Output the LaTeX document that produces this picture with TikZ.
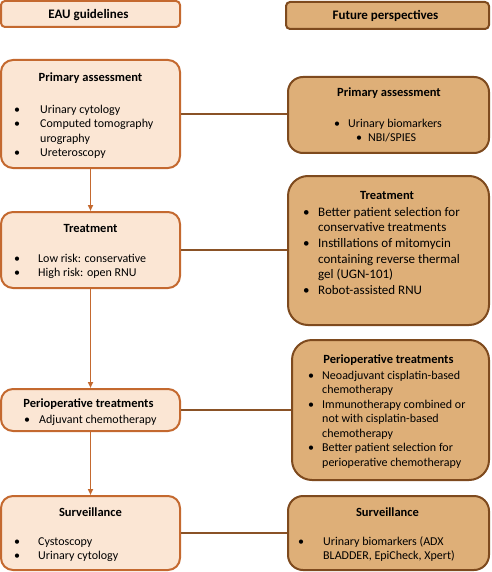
\documentclass[tikz,border=0pt]{standalone}
\usepackage{fontspec}
\setmainfont{Carlito}
\usepackage{xcolor}
\usepackage{tikz}
\usetikzlibrary{arrows.meta}

\definecolor{eauline}{HTML}{C4692F}
\definecolor{eaufill}{HTML}{FBE6D4}
\definecolor{futline}{HTML}{7E4A1E}
\definecolor{futfill}{HTML}{DEAF78}
\definecolor{linkline}{HTML}{8A5226}

\newcommand{\bul}[1]{\makebox[#1][l]{\textbullet}}
\newcommand{\topline}{\rule{0pt}{11pt}}

\tikzset{
  eaubox/.style={draw=eauline, fill=eaufill, line width=2pt, rounded corners=12pt, inner sep=0pt},
  futbox/.style={draw=futline, fill=futfill, line width=2pt, rounded corners=15pt, inner sep=0pt},
  boxtitle/.style={font=\fontsize{12.5}{15}\selectfont\bfseries, anchor=base, inner sep=0pt},
  headtitle/.style={boxtitle, font=\fontsize{13}{15}\selectfont\bfseries},
  itemlist/.style={font=\fontsize{12}{14.5}\selectfont, align=left, anchor=north west, inner sep=0pt},
  flow/.style={draw=eauline, line width=1.6pt, -{Triangle[length=6pt,width=5pt]}},
  link/.style={draw=linkline, line width=1.6pt},
}

\begin{document}
\begin{tikzpicture}[x=1pt,y=-1pt]
  \useasboundingbox (0,0) rectangle (491,572);

  % column headers
  \node[eaubox, rounded corners=4pt, minimum width=179pt, minimum height=26pt] (eau-head) at (90.5,14) {};
  \node[headtitle] (eau-head-t) at (88.5,19) {EAU guidelines};
  \node[futbox, rounded corners=4pt, minimum width=203pt, minimum height=27pt] (fut-head) at (387.5,15.5) {};
  \node[headtitle] (fut-head-t) at (385.5,20) {Future perspectives};

  % EAU guidelines column
  \node[eaubox, minimum width=179pt, minimum height=108pt] (eau-pa) at (90.5,114) {};
  \node[boxtitle] (eau-pa-t) at (90.5,82) {Primary assessment};
  \node[itemlist] (eau-pa-l) at (14,102) {\topline\bul{26pt}Urinary cytology\\
    \bul{26pt}Computed tomography\\ \hspace*{26pt}urography\\ \bul{26pt}Ureteroscopy};

  \node[eaubox, minimum width=179pt, minimum height=76pt] (eau-tr) at (90.5,250) {};
  \node[boxtitle] (eau-tr-t) at (90.5,232) {Treatment};
  \node[itemlist] (eau-tr-l) at (14,251) {\topline\bul{24pt}Low risk: conservative\\
    \bul{24pt}High risk: open RNU};

  \node[eaubox, minimum width=179pt, minimum height=42pt] (eau-po) at (90.5,410) {};
  \node[boxtitle] (eau-po-t) at (88.5,407) {Perioperative treatments};
  \node[itemlist] (eau-po-l) at (24,412) {\topline\bul{15pt}Adjuvant chemotherapy};

  \node[eaubox, minimum width=179pt, minimum height=74pt] (eau-su) at (90.5,533) {};
  \node[boxtitle] (eau-su-t) at (90.5,516) {Surveillance};
  \node[itemlist] (eau-su-l) at (14,534) {\topline\bul{24pt}Cystoscopy\\
    \bul{24pt}Urinary cytology};

  % future perspectives column
  \node[futbox, minimum width=201pt, minimum height=76pt] (fut-pa) at (388.5,115) {};
  \node[boxtitle] (fut-pa-t) at (389,97) {Primary assessment};
  \node[itemlist] (fut-pa-l) at (334,116) {\topline\bul{14pt}Urinary biomarkers\\
    \hspace*{22pt}\bul{12pt}NBI/SPIES};

  \node[futbox, rounded corners=20pt, minimum width=201pt, minimum height=149pt] (fut-tr) at (388.5,250.5) {};
  \node[boxtitle] (fut-tr-t) at (387,199) {Treatment};
  \node[itemlist, font=\fontsize{13}{15.6}\selectfont] (fut-tr-l) at (303,205) {\topline\bul{15pt}Better patient selection for\\
    \hspace*{15pt}conservative treatments\\ \bul{15pt}Instillations of mitomycin\\
    \hspace*{15pt}containing reverse thermal\\ \hspace*{15pt}gel (UGN-101)\\
    \bul{15pt}Robot-assisted RNU};

  \node[futbox, rounded corners=20pt, minimum width=197pt, minimum height=140pt] (fut-po) at (390.5,410) {};
  \node[boxtitle] (fut-po-t) at (388.5,363) {Perioperative treatments};
  \node[itemlist] (fut-po-l) at (308,368) {\topline\bul{14pt}Neoadjuvant cisplatin-based\\
    \hspace*{14pt}chemotherapy\\ \bul{14pt}Immunotherapy combined or\\
    \hspace*{14pt}not with cisplatin-based\\ \hspace*{14pt}chemotherapy\\
    \bul{14pt}Better patient selection for\\ \hspace*{14pt}perioperative chemotherapy};

  \node[futbox, minimum width=201pt, minimum height=74pt] (fut-su) at (388.5,533) {};
  \node[boxtitle] (fut-su-t) at (387.5,516) {Surveillance};
  \node[itemlist] (fut-su-l) at (298,534) {\topline\bul{25pt}Urinary biomarkers (ADX\\
    \hspace*{25pt}BLADDER, EpiCheck, Xpert)};

  % connectors
  \draw[flow] (eau-pa) -- (eau-tr);
  \draw[flow] (eau-tr) -- (eau-po);
  \draw[flow] (eau-po) -- (eau-su);
  \draw[link] (eau-pa.east) -- (eau-pa.east -| fut-pa.west);
  \draw[link] (eau-tr.east) -- (eau-tr.east -| fut-tr.west);
  \draw[link] (eau-po.east) -- (eau-po.east -| fut-po.west);
  \draw[link] (eau-su.east) -- (eau-su.east -| fut-su.west);
\end{tikzpicture}
\end{document}
